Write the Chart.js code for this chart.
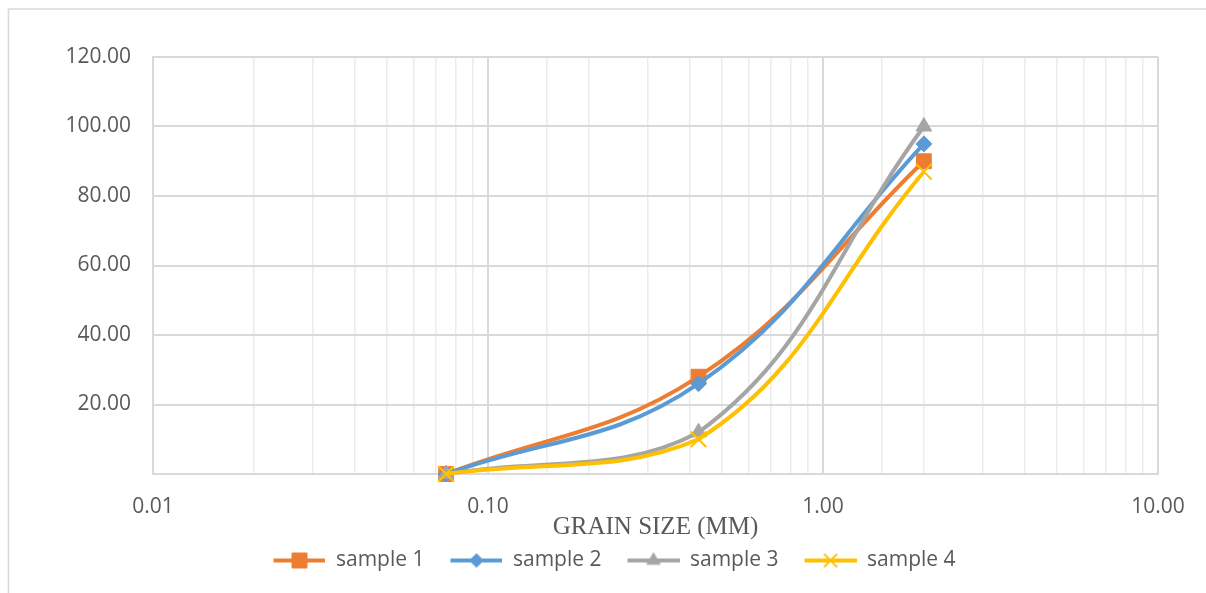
<!DOCTYPE html>
<html>
<head>
<meta charset="utf-8">
<script src="https://cdn.jsdelivr.net/npm/chart.js@4.4.1/dist/chart.umd.min.js"></script>
<style>
  body { margin: 0; background: #fff; }
  #wrap { position: relative; width: 1206px; height: 593px; }
</style>
</head>
<body>
<div id="wrap"><canvas id="gradation"></canvas></div>
<script>
// sieve sizes (mm) and percent passing per sample
const grainSize = [0.075, 0.425, 2.0];
const sample1 = [0, 28, 90];
const sample2 = [0, 26, 95];
const sample3 = [0, 12, 100];
const sample4 = [0, 10, 87];

const seriesNames = ['sample 1', 'sample 2', 'sample 3', 'sample 4'];
const seriesValues = [sample1, sample2, sample3, sample4];
const seriesColors = ['#ED7D31', '#5B9BD5', '#A5A5A5', '#FFC000'];
const seriesMarkers = ['rect', 'rectRot', 'triangle', 'crossRot'];
const markerRadius = [10.5, 8, 9, 11];

const xMin = 0.01, xMax = 10;
const yMin = 0, yMax = 120, yStep = 20;

const grey = '#595959';
const gridMajor = '#d9d9d9';
const gridMinor = '#ececec';

function isDecade(v) {
  const l = Math.log10(v);
  return Math.abs(l - Math.round(l)) < 1e-6;
}

// legend swatch: line with marker, with some empty room on the left
function legendSwatch(i) {
  const lead = 16, len = 52;
  const c = document.createElement('canvas');
  c.width = lead + len;
  c.height = 26;
  const ctx = c.getContext('2d');
  ctx.strokeStyle = seriesColors[i];
  ctx.fillStyle = seriesColors[i];
  ctx.lineWidth = 4;
  ctx.beginPath();
  ctx.moveTo(lead, 13);
  ctx.lineTo(lead + len, 13);
  ctx.stroke();
  ctx.lineWidth = i === 3 ? 2 : 1;
  Chart.helpers.drawPoint(ctx, {
    pointStyle: seriesMarkers[i],
    rotation: 0,
    radius: i === 0 ? 10.5 : markerRadius[i] * 0.85,
    borderWidth: i === 3 ? 2 : 1
  }, lead + len / 2, 13);
  return c;
}

const datasets = seriesNames.map((name, i) => ({
  label: name,
  data: grainSize.map((g, k) => ({ x: g, y: seriesValues[i][k] })),
  borderColor: seriesColors[i],
  backgroundColor: seriesColors[i],
  borderWidth: 4,
  tension: 0.4,
  clip: false,
  pointStyle: seriesMarkers[i],
  pointRadius: markerRadius[i],
  pointBorderWidth: i === 3 ? 2 : 1,
  pointBackgroundColor: seriesColors[i],
  pointBorderColor: seriesColors[i],
  order: 3 - i
}));

const framePlugin = {
  id: 'frame',
  beforeDraw(chart) {
    const c = chart.ctx;
    c.save();
    c.strokeStyle = gridMajor;
    c.lineWidth = 1.5;
    c.strokeRect(8.5, 9, 1400, 800);
    c.restore();
  }
};

const padBottom = 12;

new Chart(document.getElementById('gradation'), {
  type: 'line',
  data: { datasets: datasets },
  plugins: [framePlugin],
  options: {
    responsive: true,
    maintainAspectRatio: false,
    animation: false,
    layout: { padding: { left: 55, right: 48, top: 57, bottom: padBottom } },
    plugins: {
      tooltip: { enabled: false },
      legend: {
        position: 'bottom',
        labels: {
          usePointStyle: true,
          pointStyleWidth: 68,
          padding: 10,
          color: grey,
          font: { family: 'Open Sans', size: 21 },
          generateLabels: chart => chart.data.datasets.map((d, i) => ({
            text: d.label,
            pointStyle: legendSwatch(i),
            fillStyle: seriesColors[i],
            strokeStyle: seriesColors[i],
            lineWidth: 0,
            hidden: false,
            datasetIndex: i,
            fontColor: grey
          }))
        }
      }
    },
    scales: {
      x: {
        type: 'logarithmic',
        min: xMin,
        max: xMax,
        afterFit: s => { s.height = s.chart.height - padBottom - s.chart.legend.height - 474; },
        border: { color: gridMajor, width: 2 },
        grid: {
          drawTicks: false,
          color: ctx => isDecade(ctx.tick.value) ? gridMajor : gridMinor,
          lineWidth: ctx => isDecade(ctx.tick.value) ? 2 : 1.5
        },
        ticks: {
          autoSkip: false,
          maxRotation: 0,
          padding: 20,
          color: grey,
          font: { family: 'Open Sans', size: 21 },
          callback: v => isDecade(v) ? v.toFixed(2) : ''
        },
        title: {
          display: true,
          text: 'GRAIN SIZE (MM)',
          color: grey,
          padding: { top: 0, bottom: -2 },
          font: { family: 'Liberation Serif', size: 25 }
        }
      },
      y: {
        min: yMin,
        max: yMax,
        afterFit: s => { s.width = 98; },
        border: { color: gridMajor, width: 2 },
        grid: { drawTicks: false, color: gridMajor, lineWidth: 2 },
        ticks: {
          stepSize: yStep,
          padding: 22,
          color: grey,
          font: { family: 'Open Sans', size: 21 },
          callback: v => v === 0 ? '' : v.toFixed(2)
        }
      }
    }
  }
});
</script>
</body>
</html>
